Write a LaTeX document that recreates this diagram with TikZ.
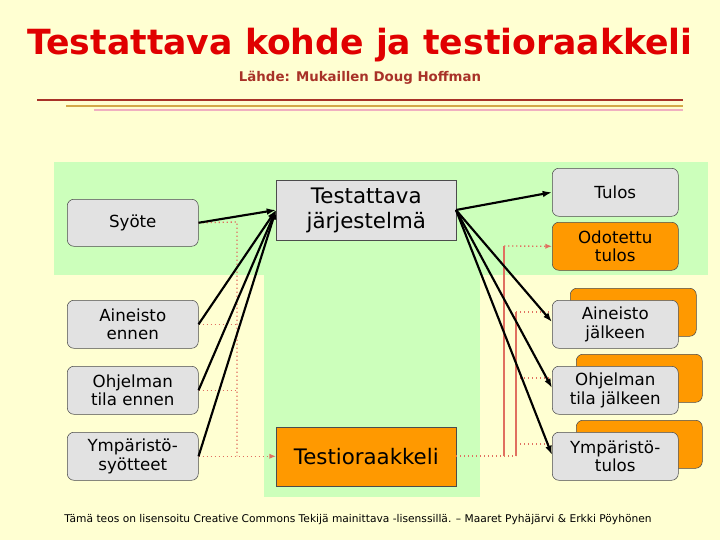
\documentclass[tikz,border=0pt]{standalone}
\usepackage{fontspec}
\setmainfont{DejaVu Sans}
\usetikzlibrary{arrows.meta}
\definecolor{bg}{HTML}{FFFFD2}
\definecolor{grn}{HTML}{CCFFBB}
\definecolor{gry}{HTML}{E2E2E2}
\definecolor{org}{HTML}{FF9900}
\definecolor{ttl}{HTML}{E00000}
\definecolor{dred}{HTML}{A83228}
\definecolor{gold}{HTML}{D4A848}
\definecolor{pnk}{HTML}{F0B0C0}
\definecolor{sal}{HTML}{E07060}
\tikzset{
 bx/.style={draw=black!70,fill=gry,rounded corners=5pt,inner sep=0pt,anchor=north west,align=center,font=\fontsize{12.5}{14}\selectfont},
 sq/.style={draw=black!70,inner sep=0pt,anchor=north west,align=center},
 blk/.style={line width=1.6pt,-{Latex[length=7pt,width=5pt]}},
 dot/.style={sal,line width=1pt,dotted},
 sol/.style={sal,line width=1.2pt},
}
\begin{document}
\begin{tikzpicture}[x=0.75pt,y=-0.75pt]
\fill[bg] (0,0) rectangle (720,540);
\useasboundingbox (0,0) rectangle (720,540);
\node[ttl,font=\bfseries\fontsize{26}{30}\selectfont] (t) at (360,45) {Testattava kohde ja testioraakkeli};
\node[dred,font=\bfseries\fontsize{10}{12}\selectfont] (s) at (360,78) {Lähde: Mukaillen Doug Hoffman};
\draw[dred,line width=1.5pt] (37,100) -- (683,100);
\draw[gold,line width=1.5pt] (66,106) -- (683,106);
\draw[pnk,line width=1.2pt] (94,110) -- (683,110);
\fill[grn] (54,162) rectangle (708,275);
\fill[grn] (264,275) rectangle (480,497);
% left
\node[bx,minimum width=131*0.75pt,minimum height=47*0.75pt] (sy) at (67,199) {Syöte};
\node[bx,minimum width=131*0.75pt,minimum height=48*0.75pt] (ae) at (67,300) {Aineisto\\ennen};
\node[bx,minimum width=131*0.75pt,minimum height=48*0.75pt] (oe) at (67,366) {Ohjelman\\tila ennen};
\node[bx,minimum width=131*0.75pt,minimum height=48*0.75pt] (ye) at (67,432) {Ympäristö-\\syötteet};
% center
\node[sq,fill=gry,minimum width=180*0.75pt,minimum height=60*0.75pt,font=\fontsize{16}{19}\selectfont] (sut) at (276,180) {Testattava\\järjestelmä};
\node[sq,fill=org,minimum width=180*0.75pt,minimum height=59*0.75pt,font=\fontsize{16}{19}\selectfont] (or) at (276,427) {Testioraakkeli};
% right
\node[bx,minimum width=126*0.75pt,minimum height=48*0.75pt] (tu) at (552,168) {Tulos};
\node[bx,fill=org,minimum width=126*0.75pt,minimum height=48*0.75pt] (ot) at (552,222) {Odotettu\\tulos};
\node[bx,fill=org,minimum width=126*0.75pt,minimum height=48*0.75pt] (ab) at (570,288) {};
\node[bx,fill=org,minimum width=126*0.75pt,minimum height=48*0.75pt] (ob) at (576,354) {};
\node[bx,fill=org,minimum width=126*0.75pt,minimum height=48*0.75pt] (yb) at (576,420) {};
\node[bx,minimum width=126*0.75pt,minimum height=48*0.75pt] (aj) at (552,300) {Aineisto\\jälkeen};
\node[bx,minimum width=126*0.75pt,minimum height=48*0.75pt] (oj) at (552,366) {Ohjelman\\tila jälkeen};
\node[bx,minimum width=126*0.75pt,minimum height=48*0.75pt] (yj) at (552,432) {Ympäristö-\\tulos};
\coordinate (in) at (276,210);
\coordinate (out) at (456,210);
\coordinate (lv1) at (237,222);
\coordinate (lv2) at (237,456);
% red dotted left
\draw[dot] (sy.east) -- (lv1) -- (lv2);
\draw[dot] (ae.east) -- (ae.east -| lv1);
\draw[dot] (oe.east) -- (oe.east -| lv1);
\draw[dot,-{Latex[length=5pt,width=4pt]}] (ye.east) -- (or.west |- ye.east);
% red right
\coordinate (r1) at (504,456);
\coordinate (r1t) at (504,246);
\coordinate (r2) at (516,456);
\coordinate (r2t) at (516,312);
\draw[dot] (456,456) -- (r2);
\draw[sol] (r1) -- (r1t);
\draw[sol] (r2) -- (r2t);
\draw[dot,-{Latex[length=5pt,width=4pt]}] (r1t) -- (ot.west);
\draw[dot] (r2t) -- (552,312);
\draw[dot] (516,378) -- (552,378);
\draw[dot] (516,444) -- (552,444);
% black
\foreach \n in {sy,ae,oe,ye} \draw[blk] (\n.east) -- (in);
\draw[blk] (out) -- (tu.west);
\draw[blk] (out) -- (552,322);
\draw[blk] (out) -- (552,388);
\draw[blk] (out) -- (552,455);
\node[font=\fontsize{8}{10}\selectfont] (ft) at (358,520) {Tämä teos on lisensoitu Creative Commons Tekijä mainittava -lisenssillä. – Maaret Pyhäjärvi \& Erkki Pöyhönen};
\end{tikzpicture}
\end{document}
